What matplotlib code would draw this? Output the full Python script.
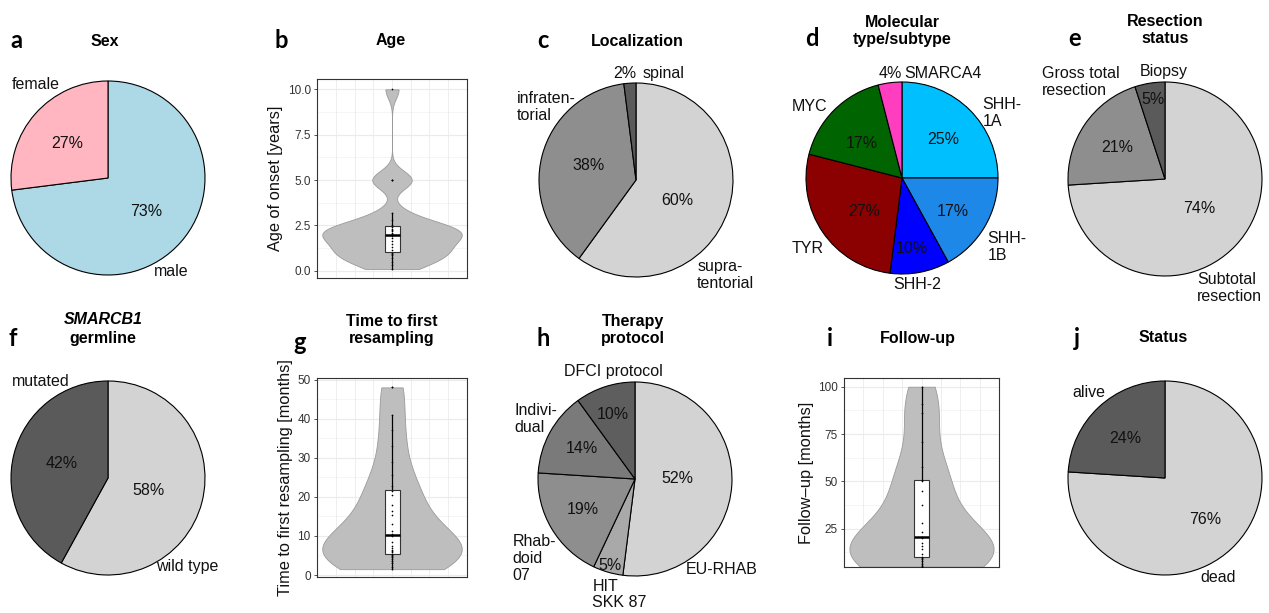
import numpy as np
import matplotlib
matplotlib.use('Agg')
import matplotlib.pyplot as plt
from matplotlib.patches import Rectangle

W, H = 1269, 613
plt.rcParams['font.family'] = ['Liberation Sans', 'DejaVu Sans']

# ---------------- data ----------------
sex_labels = ['male', 'female']
sex_values = [73, 27]
sex_colors = ['#ADD8E6', '#FFB6C1']

loc_labels = ['supra-\ntentorial', 'infraten-\ntorial', 'spinal']
loc_values = [60, 38, 2]
loc_colors = ['#D3D3D3', '#8E8E8E', '#5A5A5A']

mol_labels = ['SHH-\n1A', 'SHH-\n1B', 'SHH-2', 'TYR', 'MYC', 'SMARCA4']
mol_values = [25, 17, 10, 27, 17, 4]
mol_colors = ['#00BFFF', '#1E88E8', '#0000FF', '#8B0000', '#006400', '#FF3EBF']

res_labels = ['Subtotal\nresection', 'Gross total\nresection', 'Biopsy']
res_values = [74, 21, 5]
res_colors = ['#D3D3D3', '#8E8E8E', '#5A5A5A']

smarcb1_labels = ['wild type', 'mutated']
smarcb1_values = [58, 42]
smarcb1_colors = ['#D3D3D3', '#5A5A5A']

ther_labels = ['EU-RHAB', 'HIT\nSKK 87', 'Rhab-\ndoid\n07', 'Indivi-\ndual', 'DFCI protocol']
ther_values = [52, 5, 19, 14, 10]
ther_colors = ['#D3D3D3', '#A9A9A9', '#8E8E8E', '#7A7A7A', '#5E5E5E']

status_labels = ['dead', 'alive']
status_values = [76, 24]
status_colors = ['#D3D3D3', '#5A5A5A']

age_years = [0.1, 0.3, 0.5, 0.7, 0.85, 0.95, 1.0,
             1.15, 1.3, 1.5, 1.65, 1.8, 1.9,
             2.0, 2.1, 2.2, 2.25, 2.3, 2.4,
             2.5, 2.8, 3.2, 5.0, 5.0, 5.0, 10.0]
age_ticks = [0.0, 2.5, 5.0, 7.5, 10.0]

resampling_months = [1.5, 2.0, 3.0, 3.5, 4.0, 4.5, 4.8, 5.2,
                     5.4, 5.8, 6.2, 6.5, 7.0, 7.5, 8.5, 10.0,
                     10.4, 11.3, 13.0, 15.3, 16.5, 18.0, 20.5, 21.5,
                     22.7, 25.5, 29.0, 33.0, 37.0, 41.0, 48.0, 48.0]
resampling_ticks = [0, 10, 20, 30, 40, 50]

followup_months = [5.0, 5.5, 6.5, 8.0, 9.0, 9.7,
                   10.2, 11.8, 14.1, 15.8, 17.6, 20.3,
                   20.7, 23.4, 27.8, 37.8, 45.1, 50.4,
                   51.0, 57.6, 70.8, 86.0, 90.8, 100.0]
followup_ticks = [25, 50, 75, 100]

# ---------------- figure ----------------
fig = plt.figure(figsize=(W / 100, H / 100), dpi=100)

LBL = 11.5
TITLE = 11.5


def ftext(px, py, s, **kw):
    kw.setdefault('ha', 'center')
    kw.setdefault('va', 'center')
    fig.text(px / W, 1 - py / H, s, **kw)


def letter(px, py, s):
    ftext(px, py, s, fontsize=17, fontweight='bold', family=['Lato', 'DejaVu Sans'])


def pie_panel(cx, cy, r, values, colors, labels, label_pos, pct_pos):
    m = 1.45
    ax = fig.add_axes([(cx - m * r) / W, (H - cy - m * r) / H, 2 * m * r / W, 2 * m * r / H])
    wedges, texts, autotexts = ax.pie(
        values, colors=colors, startangle=90, counterclock=False, radius=1,
        autopct=lambda p: f'{p:.0f}%', pctdistance=0.55,
        wedgeprops=dict(edgecolor='black', linewidth=0.8),
        textprops=dict(fontsize=LBL, color='#111111'))
    for t, (x, y) in zip(autotexts, pct_pos):
        t.set_position((x, y))
        t.set_clip_on(False)
    for lab, (x, y) in zip(labels, label_pos):
        ax.text(x, y, lab, ha='left', va='center', fontsize=LBL, color='#111111',
                linespacing=1.15, clip_on=False)
    ax.set_xlim(-m, m)
    ax.set_ylim(-m, m)
    ax.set_aspect('equal')
    ax.axis('off')
    return ax


def violin_panel(left, top, right, bottom, data, ylim, ticks, ticklabels, ylabel):
    ax = fig.add_axes([left / W, 1 - bottom / H, (right - left) / W, (bottom - top) / H])
    d = np.asarray(data, float)
    n = len(d)
    q1, med, q3 = np.percentile(d, [25, 50, 75])
    iqr = q3 - q1
    h = 0.9 * min(d.std(ddof=1), iqr / 1.34) * n ** -0.2
    ys = np.linspace(d.min(), d.max(), 600)
    dens = np.exp(-0.5 * ((ys[:, None] - d[None, :]) / h) ** 2).sum(1) / (n * h * np.sqrt(2 * np.pi))
    half = dens / dens.max() * 0.93
    ax.fill_betweenx(ys, 1 - half, 1 + half, facecolor='#BEBEBE', edgecolor='#9a9a9a',
                     linewidth=0.6, zorder=2)
    lo = d[d >= q1 - 1.5 * iqr].min()
    hi = d[d <= q3 + 1.5 * iqr].max()
    ax.plot([1, 1], [lo, q1], color='black', lw=0.9, zorder=3)
    ax.plot([1, 1], [q3, hi], color='black', lw=0.9, zorder=3)
    ax.add_patch(Rectangle((0.9, q1), 0.2, q3 - q1, facecolor='white', edgecolor='#333333',
                           lw=0.8, zorder=3))
    ax.plot([0.9, 1.1], [med, med], color='black', lw=1.8, zorder=4, solid_capstyle='butt')
    ax.scatter(np.ones(n), d, s=1.5, color='black', linewidths=0, zorder=5)
    ax.set_xlim(0, 2)
    ax.set_ylim(*ylim)
    for t in ticks:
        ax.axhline(t, color='#EBEBEB', lw=0.8, zorder=0)
    for a, b in zip(ticks[:-1], ticks[1:]):
        ax.axhline((a + b) / 2, color='#F2F2F2', lw=0.5, zorder=0)
    step = ticks[1] - ticks[0]
    ax.axhline(ticks[0] - step / 2, color='#F2F2F2', lw=0.5, zorder=0)
    ax.axhline(ticks[-1] + step / 2, color='#F2F2F2', lw=0.5, zorder=0)
    for k in range(-3, 4):
        ax.axvline(1 + 0.25 * k, color='#EBEBEB', lw=0.6, zorder=0)
    ax.set_xticks([])
    ax.set_yticks(ticks)
    ax.set_yticklabels(ticklabels)
    ax.tick_params(axis='y', labelsize=8.5, labelcolor='#333333', length=2.5, width=0.6,
                   color='#333333', pad=2)
    for s in ax.spines.values():
        s.set_color('#333333')
        s.set_linewidth(0.8)
    ax.set_ylabel(ylabel, fontsize=11.8, color='#111111', labelpad=3)
    return ax


# ---- a: Sex ----
pie_panel(108, 178, 97, sex_values, sex_colors, sex_labels,
          [(0.47, -0.96), (-0.99, 0.96)],
          [(0.39, -0.35), (-0.42, 0.36)])
letter(16, 40, 'a')
ftext(105, 41, 'Sex', fontsize=TITLE, fontweight='bold')

# ---- c: Localization ----
pie_panel(636, 180, 97, loc_values, loc_colors, loc_labels,
          [(0.63, -0.98), (-1.23, 0.75), (0.07, 1.10)],
          [(0.43, -0.21), (-0.49, 0.15), (-0.12, 1.10)])
letter(543, 40, 'c')
ftext(637, 41, 'Localization', fontsize=TITLE, fontweight='bold')

# ---- d: Molecular type ----
pie_panel(902, 178, 96, mol_values, mol_colors, mol_labels,
          [(0.84, 0.68), (0.89, -0.72), (-0.09, -1.11), (-1.15, -0.73), (-1.15, 0.74), (0.02, 1.09)],
          [(0.43, 0.40), (0.53, -0.35), (0.10, -0.73), (-0.39, -0.35), (-0.42, 0.36), (-0.125, 1.09)])
letter(812, 38, 'd')
ftext(902, 31, 'Molecular\ntype/subtype', fontsize=TITLE, fontweight='bold', linespacing=1.1)

# ---- e: Resection ----
pie_panel(1165, 179, 97, res_values, res_colors, res_labels,
          [(0.33, -1.12), (-1.27, 1.0), (-0.26, 1.11)],
          [(0.35, -0.30), (-0.49, 0.32), (-0.12, 0.82)])
letter(1075, 38, 'e')
ftext(1165, 30, 'Resection\nstatus', fontsize=TITLE, fontweight='bold', linespacing=1.1)

# ---- f: SMARCB1 ----
pie_panel(108, 478, 97, smarcb1_values, smarcb1_colors, smarcb1_labels,
          [(0.5, -0.91), (-0.99, 0.99)],
          [(0.42, -0.13), (-0.48, 0.15)])
letter(13, 338, 'f')
ftext(103, 320, 'SMARCB1', fontsize=TITLE, fontweight='bold', style='italic')
ftext(103, 339, 'germline', fontsize=TITLE, fontweight='bold')

# ---- h: Therapy ----
pie_panel(635, 479, 97, ther_values, ther_colors, ther_labels,
          [(0.52, -0.93), (-0.44, -1.19), (-1.26, -0.82), (-1.24, 0.62), (-0.73, 1.11)],
          [(0.44, 0.01), (-0.26, -0.89), (-0.54, -0.31), (-0.55, 0.31), (-0.23, 0.66)])
letter(543, 338, 'h')
ftext(633, 330, 'Therapy\nprotocol', fontsize=TITLE, fontweight='bold', linespacing=1.1)

# ---- j: Status ----
pie_panel(1165, 478, 97, status_values, status_colors, status_labels,
          [(0.36, -1.03), (-0.96, 0.88)],
          [(0.41, -0.43), (-0.41, 0.41)])
letter(1077, 338, 'j')
ftext(1163, 338, 'Status', fontsize=TITLE, fontweight='bold')

# ---- b: Age ----
violin_panel(317, 79, 467, 278, age_years, (-0.4, 10.57), age_ticks,
             ['0.0', '2.5', '5.0', '7.5', '10.0'], 'Age of onset [years]')
letter(281, 41, 'b')
ftext(391, 41, 'Age', fontsize=TITLE, fontweight='bold')

# ---- g: Time to first resampling ----
violin_panel(317, 378, 467, 577, resampling_months, (-0.5, 50.4), resampling_ticks,
             [str(t) for t in resampling_ticks], 'Time to first resampling [months]')
letter(300, 342, 'g')
ftext(392, 330, 'Time to first\nresampling', fontsize=TITLE, fontweight='bold', linespacing=1.1)

# ---- i: Follow-up ----
violin_panel(844, 378, 999, 567, followup_months, (4.8, 104.6), followup_ticks,
             [str(t) for t in followup_ticks], 'Follow\u2013up [months]')
letter(830, 338, 'i')
ftext(918, 338, 'Follow-up', fontsize=TITLE, fontweight='bold')

fig.savefig('out.png', dpi=100)
